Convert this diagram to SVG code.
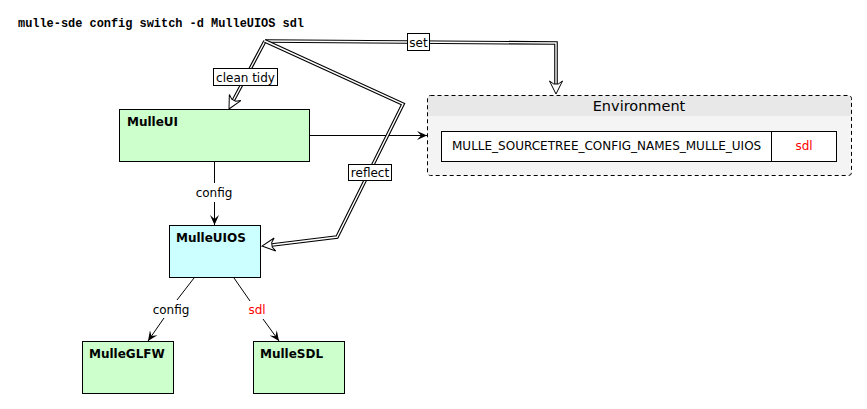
<svg xmlns="http://www.w3.org/2000/svg" width="867" height="409" viewBox="0 0 867 409">
<style>
text{font-family:"DejaVu Sans","Liberation Sans",sans-serif;font-size:12px;fill:#000}
.title{font-family:"Liberation Mono","Courier New",monospace;font-weight:bold;font-size:12px}
.nlabel{font-weight:bold}
.node{stroke:#000;stroke-width:1}
.g{fill:#ccffcc}
.c{fill:#ccffff}
.ln{fill:none;stroke:#000;stroke-width:1}
.dbo{fill:none;stroke:#000;stroke-width:3.6;stroke-linejoin:miter}
.dbi{fill:none;stroke:#fff;stroke-width:1.4;stroke-linejoin:miter}
.hh{fill:#fff;stroke:#000;stroke-width:1;stroke-linejoin:miter}
.lbox{fill:#fff;stroke:#000;stroke-width:1}
.red{fill:#ff0000}
.mid{text-anchor:middle}
</style>
<defs>
<marker id="ah" viewBox="0 0 10 10" refX="10" refY="5" markerWidth="10" markerHeight="10" markerUnits="userSpaceOnUse" orient="auto">
<path d="M0,0.5 L10,5 L0,9.5 L4,5 Z" fill="#000"/>
</marker>
<polygon id="hollow" points="0,0 -13,-6.5 -10,-2.2 -10,2.2 -13,6.5"/>
<path id="pClean" d="M265,41 L233,101"/>
<path id="pSet" d="M265,41 L556,43 L556,84"/>
<path id="pReflect" d="M265,41 L403,104 L337,237 L272,245"/>
</defs>

<text class="title" x="18" y="27" textLength="286" lengthAdjust="spacingAndGlyphs">mulle-sde config switch -d MulleUIOS sdl</text>

<g id="environment">
<rect x="427.5" y="95.5" width="424" height="80" rx="3" fill="#f4f4f4"/>
<path d="M427.5,116 L427.5,98.5 Q427.5,95.5 430.5,95.5 L848.5,95.5 Q851.5,95.5 851.5,98.5 L851.5,116 Z" fill="#e8e8e8"/>
<rect x="427.5" y="95.5" width="424" height="80" rx="3" fill="none" stroke="#000" stroke-width="1" stroke-dasharray="4,3"/>
<text x="639" y="111" class="mid" style="font-size:14.5px">Environment</text>
<rect x="441.5" y="131.5" width="395" height="30" fill="#fff" stroke="#000"/>
<line x1="771.5" y1="131.5" x2="771.5" y2="161.5" stroke="#000"/>
<text x="452" y="150">MULLE_SOURCETREE_CONFIG_NAMES_MULLE_UIOS</text>
<text x="804" y="150" class="mid red">sdl</text>
</g>

<g id="MulleUI">
<rect class="node g" x="119.5" y="109.5" width="190" height="52"/>
<text class="nlabel" x="127" y="126">MulleUI</text>
</g>
<g id="MulleUIOS">
<rect class="node c" x="169.5" y="225.5" width="91" height="52"/>
<text class="nlabel" x="176" y="242">MulleUIOS</text>
</g>
<g id="MulleGLFW">
<rect class="node g" x="82.5" y="341.5" width="91" height="52"/>
<text class="nlabel" x="89" y="358">MulleGLFW</text>
</g>
<g id="MulleSDL">
<rect class="node g" x="253.5" y="341.5" width="91" height="52"/>
<text class="nlabel" x="260" y="358">MulleSDL</text>
</g>

<g id="connectors">
<line class="ln" x1="310" y1="135.5" x2="427" y2="135.5" marker-end="url(#ah)"/>
<line class="ln" x1="214.5" y1="162" x2="214.5" y2="183"/>
<line class="ln" x1="214.5" y1="202" x2="214.5" y2="225" marker-end="url(#ah)"/>
<text x="214" y="197" class="mid">config</text>
<line class="ln" x1="194" y1="278" x2="177" y2="300"/>
<line class="ln" x1="164" y1="318" x2="148" y2="341" marker-end="url(#ah)"/>
<text x="171" y="314" class="mid">config</text>
<line class="ln" x1="234" y1="278" x2="250" y2="301"/>
<line class="ln" x1="263" y1="319" x2="279" y2="341" marker-end="url(#ah)"/>
<text x="257" y="314" class="mid red">sdl</text>

<use href="#pClean" class="dbo"/>
<use href="#pClean" class="dbi"/>
<use href="#hollow" class="hh" transform="translate(229,109) rotate(117.9)"/>
<use href="#pSet" class="dbo"/>
<use href="#pSet" class="dbi"/>
<use href="#hollow" class="hh" transform="translate(556,94) rotate(90)"/>
<use href="#pReflect" class="dbo"/>
<use href="#pReflect" class="dbi"/>
<use href="#hollow" class="hh" transform="translate(262,246) rotate(173.2)"/>

<rect class="lbox" x="213.5" y="68.5" width="64" height="17"/>
<text x="245.5" y="82" class="mid">clean tidy</text>
<rect class="lbox" x="407.5" y="33.5" width="22" height="17"/>
<text x="418.5" y="47" class="mid">set</text>
<rect class="lbox" x="348.5" y="164.5" width="43" height="16"/>
<text x="370" y="177" class="mid">reflect</text>
</g>
</svg>
